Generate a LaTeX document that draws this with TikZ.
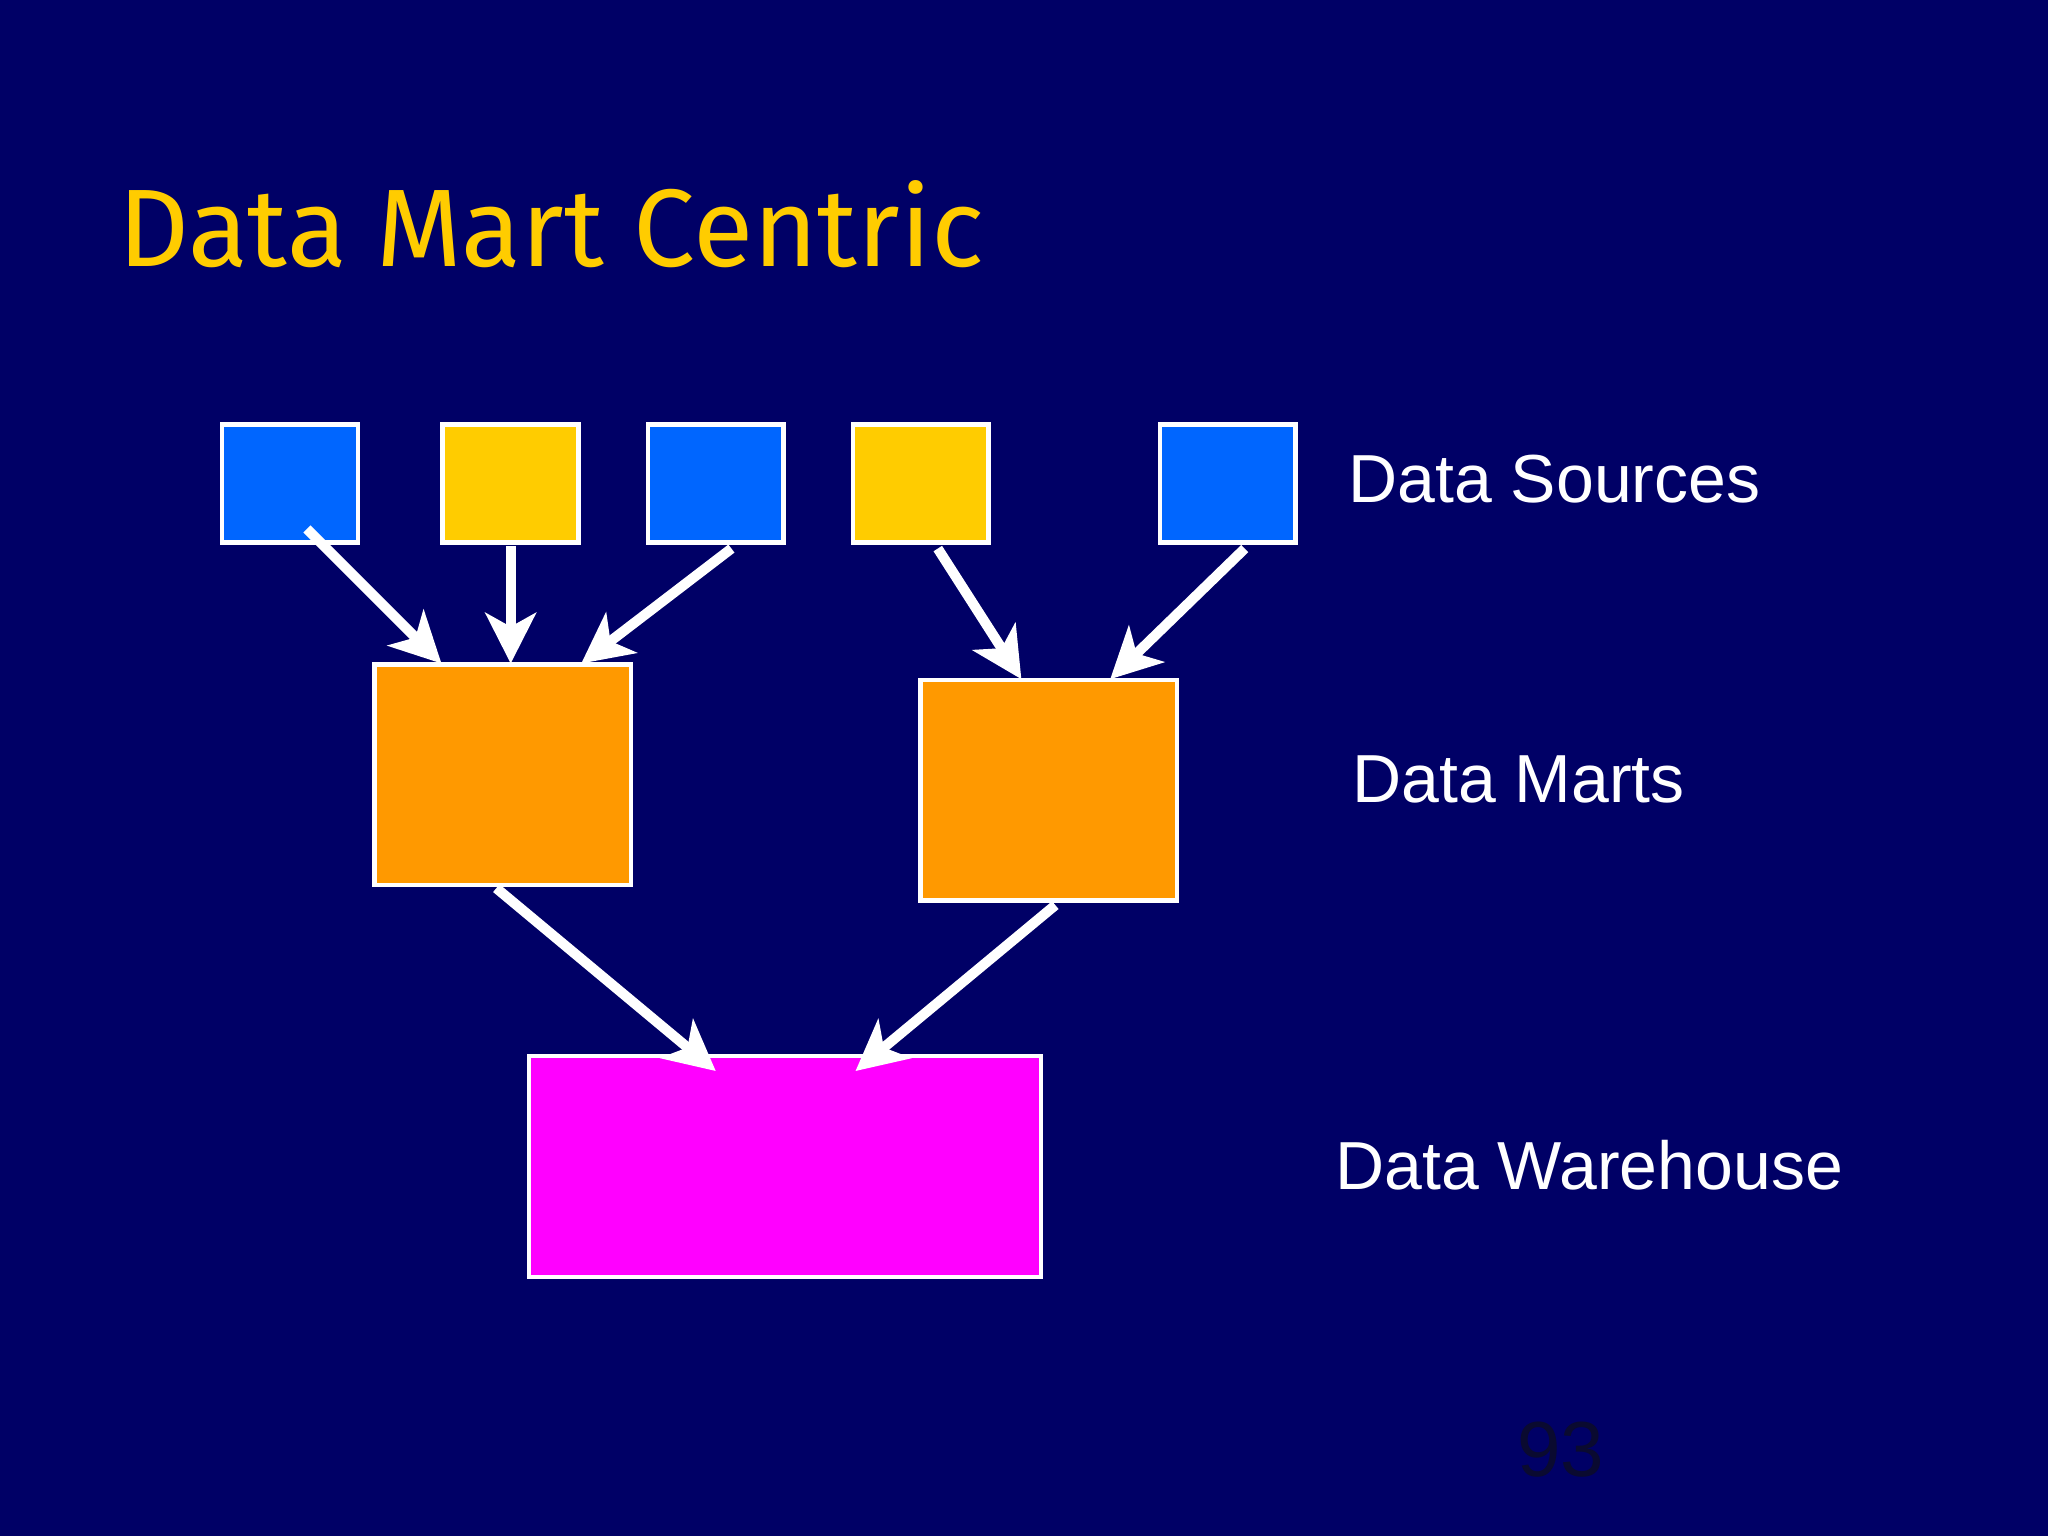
\documentclass[tikz,border=0pt]{standalone}
\usepackage{fontspec}
\setmainfont{Liberation Sans}
\newfontfamily\titlefont{Fira Sans}
\usetikzlibrary{shapes.geometric,arrows.meta}
\definecolor{bg}{HTML}{000066}
\definecolor{bl}{HTML}{0066FF}\definecolor{blt}{HTML}{66A3FF}
\definecolor{ye}{HTML}{FFCC00}\definecolor{yet}{HTML}{FFE066}
\definecolor{or}{HTML}{FF9900}\definecolor{ort}{HTML}{FFC266}
\definecolor{mg}{HTML}{FF00FF}\definecolor{mgt}{HTML}{FF66FF}
\definecolor{pg}{HTML}{0A0A30}
\tikzset{
 cyl/.style n args={2}{cylinder, shape border rotate=90, draw=white, line width=1pt, cylinder uses custom fill, cylinder body fill=#1, cylinder end fill=#2, inner sep=0pt},
 src/.style={minimum width=1.04cm, minimum height=0.9cm, aspect=0.42},
 mart/.style={minimum width=1.96cm, minimum height=1.69cm, aspect=0.42},
 arr/.style={draw=white, line width=2.2pt, -{Stealth[length=11pt,width=11pt,inset=3pt]}},
 lbl/.style={text=white, font=\fontsize{14.8}{18}\selectfont, anchor=west}
}
\begin{document}
\begin{tikzpicture}[x=0.01cm,y=-0.01cm]
\fill[bg] (0,0) rectangle (1568,1176);
\useasboundingbox (0,0) rectangle (1568,1176);
\node[text=ye, font=\titlefont\fontsize{24}{28}\selectfont, anchor=west] (title) at (78,172) {Data Mart Centric};
\node[cyl={bl}{blt}, src] (s1) at (222,371) {};
\node[cyl={ye}{yet}, src] (s2) at (391,371) {};
\node[cyl={bl}{blt}, src] (s3) at (548,371) {};
\node[cyl={ye}{yet}, src] (s4) at (705,371) {};
\node[cyl={bl}{blt}, src] (s5) at (940,371) {};
\node[cyl={or}{ort}, mart] (m1) at (385,594) {};
\node[cyl={or}{ort}, mart] (m2) at (803,606) {};
\node[cyl={mg}{mgt}, minimum width=3.92cm, minimum height=1.69cm, aspect=0.21] (w) at (601,894) {};
\node[lbl] (ls) at (1020,367) {Data Sources};
\node[lbl] (lm) at (1023,597) {Data Marts};
\node[lbl] (lw) at (1010,892) {Data Warehouse};
\node[text=pg, font=\fontsize{17}{20}\selectfont\rmfamily] (pn) at (1195,1110) {93};
\coordinate (a1s) at (235,405); \coordinate (a1e) at (338,508);
\coordinate (a2s) at (391,418); \coordinate (a2e) at (391,508);
\coordinate (a3s) at (560,420); \coordinate (a3e) at (445,508);
\coordinate (a4s) at (718,420); \coordinate (a4e) at (782,520);
\coordinate (a5s) at (953,420); \coordinate (a5e) at (850,520);
\coordinate (a6s) at (380,680); \coordinate (a6e) at (548,820);
\coordinate (a7s) at (808,693); \coordinate (a7e) at (655,820);
\foreach \i in {1,...,7} \draw[arr] (a\i s) -- (a\i e);
\end{tikzpicture}
\end{document}
